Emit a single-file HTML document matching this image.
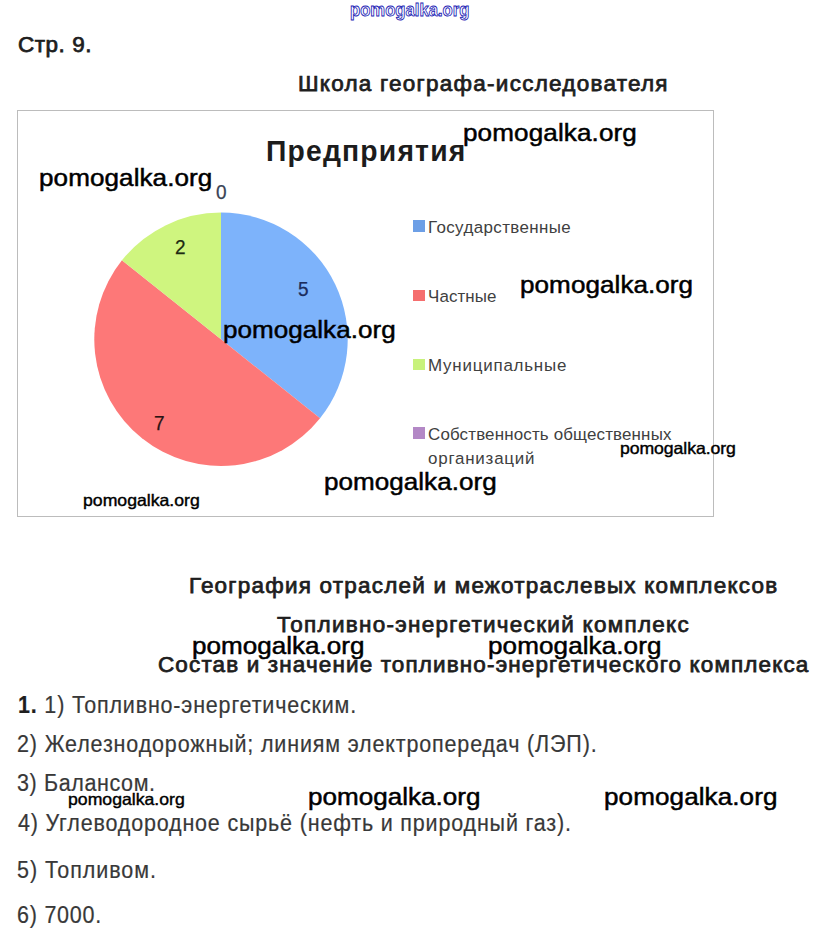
<!DOCTYPE html>
<html lang="ru">
<head>
<meta charset="utf-8">
<title>Стр. 9</title>
<style>
html,body{margin:0;padding:0;background:#fff;}
body{width:817px;height:939px;position:relative;overflow:hidden;font-family:"Liberation Sans",sans-serif;color:#222;}
.t{position:absolute;white-space:nowrap;line-height:1;transform-origin:0 0;}
.hd{font-weight:normal;color:#1e1e1e;-webkit-text-stroke:0.75px #1e1e1e;}
.ct{font-weight:bold;color:#1c1c1c;}
.p{color:#383838;-webkit-text-stroke:0.2px #383838;}
.bd{font-weight:bold;color:#1e1e1e;}
.tw{color:#fff;font-weight:bold;-webkit-text-stroke:0.85px #1a1ab4;}
.wm{color:#000;}
.wl{-webkit-text-stroke:0.5px #000;}
.ws{-webkit-text-stroke:0.4px #000;}
.lg{color:#404040;}
.sq{position:absolute;width:11px;height:11px;}
.num{-webkit-text-stroke:0.25px currentColor;}
#chart{position:absolute;left:17px;top:110px;width:695px;height:405px;border:1px solid #bcbcbc;}
</style>
</head>
<body>

<div id="chart"></div>
<svg id="pie" style="position:absolute;left:90px;top:208px;" width="262" height="262" viewBox="90 208 262 262">
  <path d="M221 339.3 L221 212.6 A126.7 126.7 0 0 1 320.06 418.3 Z" fill="#7db3fb"/>
  <path d="M221 339.3 L320.06 418.3 A126.7 126.7 0 0 1 121.94 260.3 Z" fill="#fd7878"/>
  <path d="M221 339.3 L121.94 260.3 A126.7 126.7 0 0 1 221 212.6 Z" fill="#cff57f"/>
</svg>
<div class="sq" id="s1" style="left:413.3px;top:220px;width:11.6px;height:11.8px;background:#6d9fe6;"></div>
<div class="sq" id="s2" style="left:413px;top:290px;width:12px;height:10.8px;background:#f56e6e;"></div>
<div class="sq" id="s3" style="left:413px;top:359.3px;width:12px;height:10.7px;background:#c8f27c;"></div>
<div class="sq" id="s4" style="left:413px;top:427px;width:11.8px;height:11.6px;background:#b388c6;"></div>

<div class="t tw" id="topwm" style="left:350.00px;top:2.19px;font-size:17.5px;letter-spacing:0.018px;transform:scaleX(0.95);">pomogalka.org</div>
<div class="t hd" id="str" style="left:18.00px;top:34.42px;font-size:21.6px;letter-spacing:0.521px;transform:scaleX(1.04);">Стр. 9.</div>
<div class="t hd" id="h1" style="left:298.00px;top:72.52px;font-size:21.6px;letter-spacing:1.222px;transform:scaleX(1.04);">Школа географа-исследователя</div>
<div class="t ct" id="ctitle" style="left:266.00px;top:136.88px;font-size:29.2px;letter-spacing:1.216px;transform:scaleX(0.97);">Предприятия</div>
<div class="t num" id="n0" style="left:216.00px;top:181.97px;font-size:20px;letter-spacing:0.000px;transform:scaleX(0.95);color:#3a4356;">0</div>
<div class="t num" id="n2" style="left:175.00px;top:237.07px;font-size:20px;letter-spacing:0.000px;transform:scaleX(0.95);color:#1d2b12;">2</div>
<div class="t num" id="n5" style="left:298.00px;top:279.07px;font-size:20px;letter-spacing:0.000px;transform:scaleX(0.95);color:#1b2c5c;">5</div>
<div class="t num" id="n7" style="left:154.00px;top:413.27px;font-size:20px;letter-spacing:0.000px;transform:scaleX(0.95);color:#2a1414;">7</div>
<div class="t lg" id="l1" style="left:428.00px;top:219.20px;font-size:16.3px;letter-spacing:0.378px;transform:scaleX(1.04);">Государственные</div>
<div class="t lg" id="l2" style="left:428.00px;top:288.20px;font-size:16.3px;letter-spacing:0.104px;transform:scaleX(1.04);">Частные</div>
<div class="t lg" id="l3" style="left:428.00px;top:357.20px;font-size:16.3px;letter-spacing:0.753px;transform:scaleX(1.04);">Муниципальные</div>
<div class="t lg" id="l4" style="left:428.00px;top:426.20px;font-size:16.3px;letter-spacing:0.150px;transform:scaleX(1.04);">Собственность общественных</div>
<div class="t lg" id="l5" style="left:428.00px;top:450.20px;font-size:16.3px;letter-spacing:0.760px;transform:scaleX(1.04);">организаций</div>
<div class="t wm wl" id="w1" style="left:463.00px;top:121.48px;font-size:24.6px;letter-spacing:0.106px;transform:scaleX(1.06);">pomogalka.org</div>
<div class="t wm wl" id="w2" style="left:39.00px;top:166.08px;font-size:24.6px;letter-spacing:0.067px;transform:scaleX(1.06);">pomogalka.org</div>
<div class="t wm wl" id="w3" style="left:520.00px;top:273.18px;font-size:24.6px;letter-spacing:0.051px;transform:scaleX(1.06);">pomogalka.org</div>
<div class="t wm wl" id="w4" style="left:223.00px;top:317.58px;font-size:24.6px;letter-spacing:0.016px;transform:scaleX(1.06);">pomogalka.org</div>
<div class="t wm wl" id="w5" style="left:324.00px;top:469.98px;font-size:24.6px;letter-spacing:0.016px;transform:scaleX(1.06);">pomogalka.org</div>
<div class="t wm ws" id="w6" style="left:620.00px;top:439.93px;font-size:16.5px;letter-spacing:-0.070px;transform:scaleX(1.07);">pomogalka.org</div>
<div class="t wm ws" id="w7" style="left:83.00px;top:492.13px;font-size:16.5px;letter-spacing:-0.004px;transform:scaleX(1.07);">pomogalka.org</div>
<div class="t hd" id="h2" style="left:189.00px;top:575.42px;font-size:21.6px;letter-spacing:1.183px;transform:scaleX(1.04);">География отраслей и межотраслевых комплексов</div>
<div class="t hd" id="h3" style="left:277.00px;top:614.42px;font-size:21.6px;letter-spacing:1.253px;transform:scaleX(1.04);">Топливно-энергетический комплекс</div>
<div class="t hd" id="h4" style="left:158.00px;top:653.72px;font-size:21.6px;letter-spacing:1.105px;transform:scaleX(1.04);">Состав и значение топливно-энергетического комплекса</div>
<div class="t wm wl" id="w8" style="left:192.00px;top:633.98px;font-size:24.6px;letter-spacing:0.004px;transform:scaleX(1.06);">pomogalka.org</div>
<div class="t wm wl" id="w9" style="left:488.00px;top:633.98px;font-size:24.6px;letter-spacing:0.079px;transform:scaleX(1.06);">pomogalka.org</div>
<div class="t p" id="p1" style="left:18.00px;top:693.84px;font-size:22.4px;letter-spacing:0.858px;transform:scale(0.96,1.045);"><span class="bd">1.</span> 1) Топливно-энергетическим.</div>
<div class="t p" id="p2" style="left:17.00px;top:733.04px;font-size:22.4px;letter-spacing:0.885px;transform:scale(0.96,1.045);">2) Железнодорожный; линиям электропередач (ЛЭП).</div>
<div class="t p" id="p3" style="left:17.00px;top:772.04px;font-size:22.4px;letter-spacing:0.649px;transform:scale(0.96,1.045);">3) Балансом.</div>
<div class="t p" id="p4" style="left:18.00px;top:812.14px;font-size:22.4px;letter-spacing:0.864px;transform:scale(0.96,1.045);">4) Углеводородное сырьё (нефть и природный газ).</div>
<div class="t p" id="p5" style="left:17.00px;top:859.34px;font-size:22.4px;letter-spacing:0.975px;transform:scale(0.96,1.045);">5) Топливом.</div>
<div class="t p" id="p6" style="left:17.00px;top:904.34px;font-size:22.4px;letter-spacing:0.796px;transform:scale(0.96,1.045);">6) 7000.</div>
<div class="t wm ws" id="w10" style="left:68.00px;top:791.33px;font-size:16.5px;letter-spacing:-0.004px;transform:scaleX(1.07);">pomogalka.org</div>
<div class="t wm wl" id="w11" style="left:308.00px;top:785.18px;font-size:24.6px;letter-spacing:0.004px;transform:scaleX(1.06);">pomogalka.org</div>
<div class="t wm wl" id="w12" style="left:604.00px;top:785.18px;font-size:24.6px;letter-spacing:0.079px;transform:scaleX(1.06);">pomogalka.org</div>

</body>
</html>
